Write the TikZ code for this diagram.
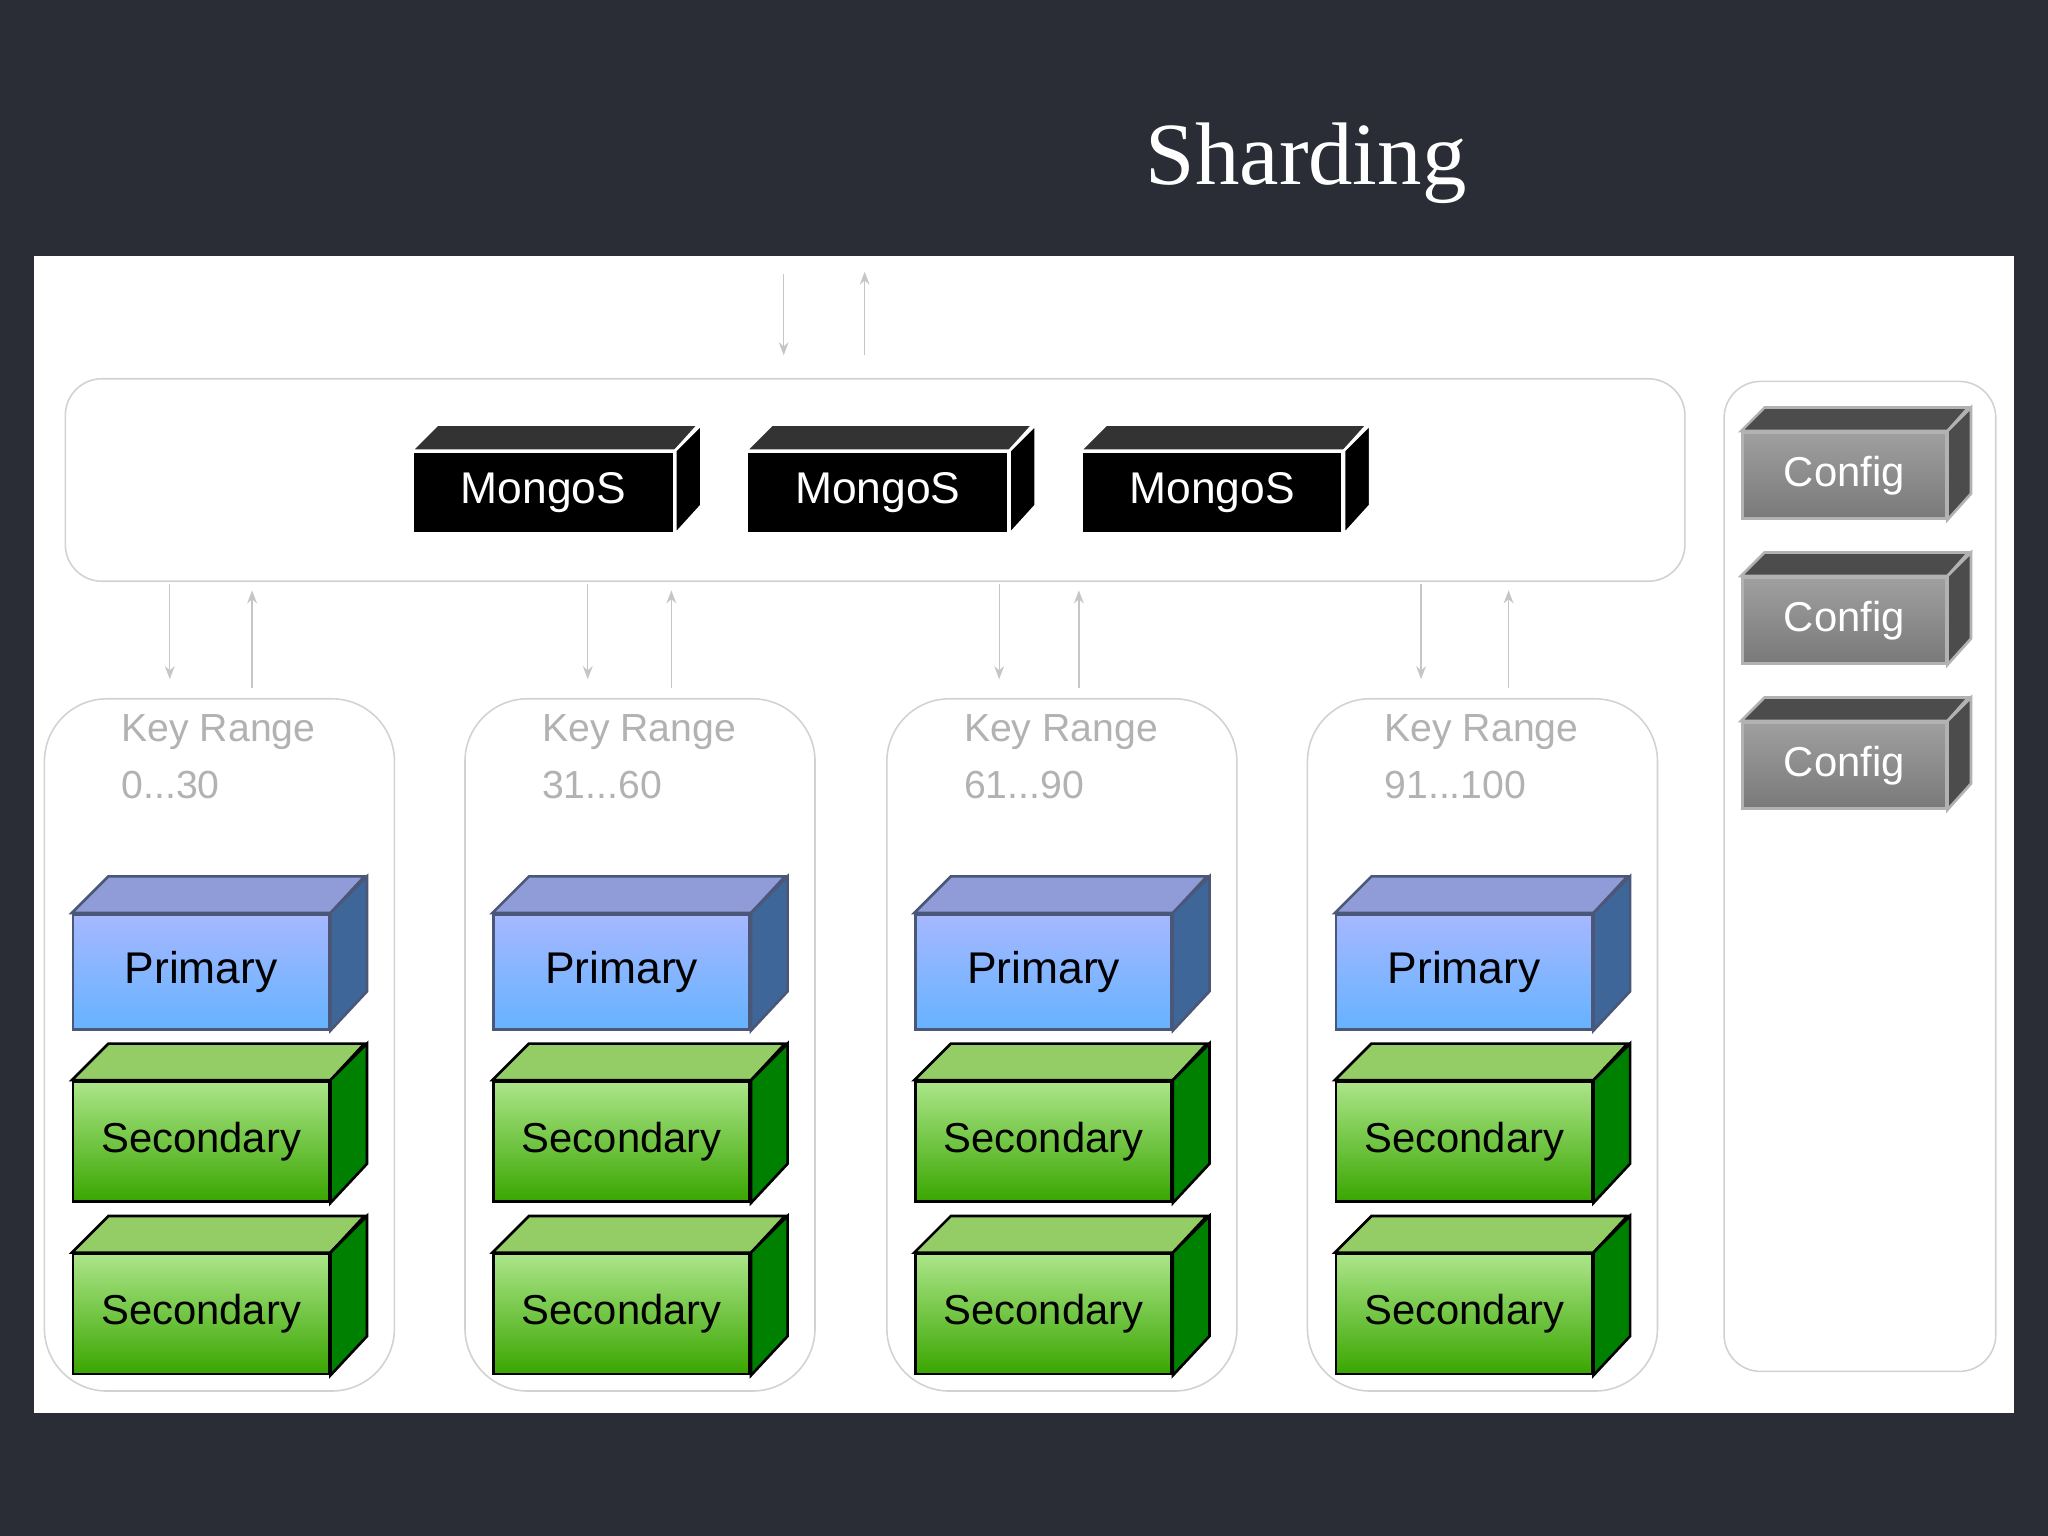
\documentclass[tikz,border=0pt]{standalone}
\usepackage{fontspec}
\setmainfont{Liberation Sans}
\newfontfamily\titlefont{Liberation Serif}
\usetikzlibrary{arrows.meta}
\definecolor{bgdark}{HTML}{2A2D36}
\newcommand\tdots{...}
\tikzset{
  grp/.style={draw=gray!35,rounded corners=14pt,line width=0.6pt},
  faint/.style={draw=gray!45,line width=0.5pt,-{Stealth[length=5pt]}},
  keytxt/.style={text=gray!60,font=\fontsize{15}{18}\selectfont,align=left,anchor=north west},
  cubeM/.code={\def\ctop{black}\def\cbot{black}\def\cface{black!80}\def\cside{black}\def\ctxt{white}\def\cfs{17}\def\cbd{white}},
  cubeC/.code={\def\ctop{gray!75}\def\cbot{gray!95!black}\def\cface{gray!60!black}\def\cside{gray!60!black}\def\ctxt{white}\def\cfs{16}\def\cbd{gray!60}},
  cubeP/.code={\def\ctop{cyan!20!blue!35!white}\def\cbot{cyan!50!blue!60}\def\cface{cyan!30!blue!45}\def\cside{cyan!50!blue!70!black}\def\ctxt{black}\def\cfs{17}\def\cbd{cyan!40!blue!50!black}},
  cubeS/.code={\def\ctop{green!50!lime!40!white!90!black}\def\cbot{green!50!black!70!lime}\def\cface{green!40!lime!50!white!80!black}\def\cside{green!50!black}\def\ctxt{black}\def\cfs{16}\def\cbd{black}},
}
% name, cx, cy, w, h, depth, style, text
\newcommand\mycube[8]{%
  \tikzset{#7}%
  \node[minimum width=#4*0.5pt,minimum height=#5*0.5pt,inner sep=0,draw=\cbd,line width=1pt,
        top color=\ctop,bottom color=\cbot,text=\ctxt,font=\fontsize{\cfs}{\cfs}\selectfont] (#1) at (#2,#3) {#8};
  \fill[\cface,draw=\cbd,line width=1pt] (#1.north west) -- ++(#6,-#6) -- ++(#4,0) -- (#1.north east) -- cycle;
  \fill[\cside,draw=\cbd,line width=1pt] (#1.north east) -- ++(#6,-#6) -- ++(0,#5) -- (#1.south east) -- cycle;
}
\begin{document}
\begin{tikzpicture}[x=0.5pt,y=-0.5pt]
\fill[bgdark] (0,0) rectangle (1568,1176);
\useasboundingbox (0,0) rectangle (1568,1176);
\node[text=white,font=\titlefont\fontsize{34}{40}\selectfont] (title) at (1000,125) {Sharding};
\fill[white] (26,196) rectangle (1542,1082);
% groups
\draw[grp] (50,290) rectangle (1290,445);
\draw[grp] (1320,292) rectangle (1528,1050);
% top faint arrows
\coordinate (t1) at (600,210); \coordinate (t2) at (600,272);
\coordinate (t3) at (662,272); \coordinate (t4) at (662,208);
\draw[faint] (t1) -- (t2);
\draw[faint] (t3) -- (t4);
% mongos
\foreach \i/\x in {1/416,2/672,3/928}{
  \mycube{m\i}{\x}{377}{200}{62}{20}{cubeM}{MongoS}
}
% configs
\foreach \i/\y in {1/364,2/475,3/586}{
  \mycube{c\i}{1412}{\y}{156}{66}{18}{cubeC}{Config}
}
% shards
\foreach \i/\xl/\lab in {1/34/0\tdots30,2/356/31\tdots60,3/679/61\tdots90,4/1001/91\tdots100}{
  \draw[grp,rounded corners=24pt] (\xl,535) rectangle ++(268,530);
  \node[keytxt] (k\i) at (\xl+52,540) {Key Range\\[4pt]\lab};
  \pgfmathsetmacro\cx{\xl+120}
  \mycube{p\i}{\cx}{744}{196}{88}{28}{cubeP}{Primary}
  \mycube{sa\i}{\cx}{874}{196}{92}{28}{cubeS}{Secondary}
  \mycube{sb\i}{\cx}{1006}{196}{92}{28}{cubeS}{Secondary}
}
% faint arrows between router and shards
\foreach \i/\a/\b in {1/130/193,2/450/514,3/765/826,4/1088/1155}{
  \coordinate (d\i a) at (\a,447); \coordinate (d\i b) at (\a,520);
  \coordinate (u\i a) at (\b,527); \coordinate (u\i b) at (\b,452);
  \draw[faint] (d\i a) -- (d\i b);
  \draw[faint] (u\i a) -- (u\i b);
}
\end{tikzpicture}
\end{document}
